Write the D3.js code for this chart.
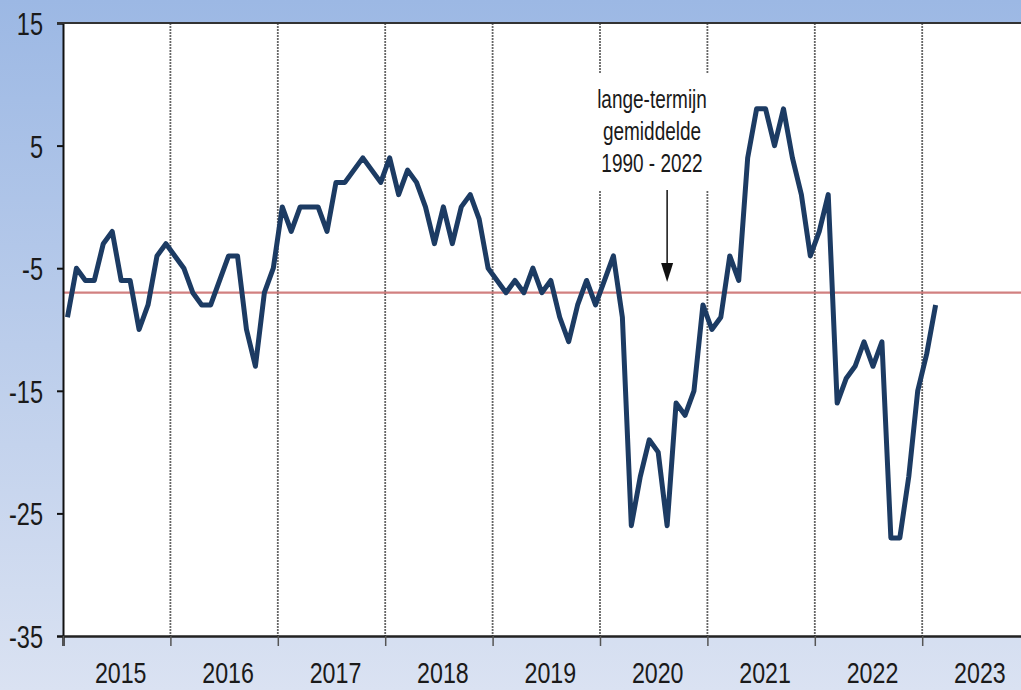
<!DOCTYPE html>
<html lang="nl">
	<head>
		<meta charset="utf-8">
		<title>Consumentenvertrouwen</title>
		<script src="https://d3js.org/d3.v7.min.js"></script>
		<style>
			html, body { margin: 0; padding: 0; overflow: hidden; }
			text { font-family: "Liberation Sans", Arial, sans-serif; fill: #1a1a1a; }
		</style>
	</head>
	<body>
		<script type="text/javascript">

			// years on the x axis
			var years = ["2015", "2016", "2017", "2018", "2019", "2020", "2021", "2022", "2023"];

			// monthly values, Jan 2015 - Feb 2023
			var values = [
				-9, -5, -6, -6, -3, -2, -6, -6, -10, -8, -4, -3,       // 2015
				-4, -5, -7, -8, -8, -6, -4, -4, -10, -13, -7, -5,      // 2016
				0, -2, 0, 0, 0, -2, 2, 2, 3, 4, 3, 2,                  // 2017
				4, 1, 3, 2, 0, -3, 0, -3, 0, 1, -1, -5,                // 2018
				-6, -7, -6, -7, -5, -7, -6, -9, -11, -8, -6, -8,       // 2019
				-6, -4, -9, -26, -22, -19, -20, -26, -16, -17, -15, -8, // 2020
				-10, -9, -4, -6, 4, 8, 8, 5, 8, 4, 1, -4,              // 2021
				-2, 1, -16, -14, -13, -11, -13, -11, -27, -27, -22, -15, // 2022
				-12, -8                                                // 2023
			];

			var yTicks = [15, 5, -5, -15, -25, -35];
			var longTermAverage = -7;
			var noteLines = ["lange-termijn", "gemiddelde", "1990 - 2022"];

			//Width and height of svg
			var w = 1021;
			var h = 690;
			var pLeft = 63, pTop = 23, pBottom = 636, pRight = 1021;

			// scales (x in months since Jan 2015)
			var xScale = d3.scaleLinear()
				.domain([0, years.length * 12])
				.range([pLeft, pLeft + years.length * 107.4]);

			var yScale = d3.scaleLinear()
				.domain([-35, 15])
				.range([pBottom, pTop]);

			var svg = d3.select("body").append("svg").attr("width", w).attr("height", h);

			// background gradient
			var grad = svg.append("defs").append("linearGradient")
				.attr("id", "bg").attr("x1", 0).attr("y1", 0).attr("x2", 0).attr("y2", 1);
			grad.append("stop").attr("offset", "0%").attr("stop-color", "#9cb8e4");
			grad.append("stop").attr("offset", "100%").attr("stop-color", "#dae2f2");

			svg.append("rect").attr("width", w).attr("height", h).attr("fill", "url(#bg)");
			svg.append("rect")
				.attr("x", pLeft).attr("y", pTop)
				.attr("width", pRight - pLeft).attr("height", pBottom - pTop)
				.attr("fill", "white");

			// year separators
			var yearStarts = d3.range(1, years.length);
			svg.selectAll(".sep")
				.data(yearStarts)
				.enter()
				.append("line")
				.attr("x1", function(d) { return xScale(d * 12); })
				.attr("x2", function(d) { return xScale(d * 12); })
				.attr("y1", pTop)
				.attr("y2", pBottom)
				.attr("stroke", "#666")
				.attr("stroke-width", 1.8)
				.attr("stroke-dasharray", "2,1");

			// box behind the note
			svg.append("rect")
				.attr("x", 594).attr("y", 74)
				.attr("width", 120).attr("height", 116)
				.attr("fill", "white");

			// long term average
			svg.append("line")
				.attr("x1", pLeft).attr("x2", pRight)
				.attr("y1", yScale(longTermAverage)).attr("y2", yScale(longTermAverage))
				.attr("stroke", "#c96a6a")
				.attr("stroke-opacity", 0.85)
				.attr("stroke-width", 2.2);

			// series
			var line = d3.line()
				.x(function(d, i) { return xScale(i + 0.5); })
				.y(function(d) { return yScale(d); });

			svg.append("path")
				.datum(values)
				.attr("d", line)
				.attr("fill", "none")
				.attr("stroke", "#1c3b63")
				.attr("stroke-width", 5)
				.attr("stroke-linejoin", "round");

			// y axis
			var yAxis = d3.axisLeft(yScale).tickValues(yTicks).tickSize(6).tickFormat(d3.format("d"));
			var gy = svg.append("g").attr("transform", "translate(" + pLeft + ",0)").call(yAxis);
			gy.select(".domain").attr("stroke", "#111").attr("stroke-width", 2);
			gy.selectAll(".tick line").attr("stroke", "#111").attr("stroke-width", 2);
			gy.selectAll(".tick text")
				.attr("x", 0).attr("dy", null).attr("y", 0)
				.attr("font-size", 31)
				.attr("font-family", "'Liberation Sans', Arial, sans-serif")
				.attr("text-anchor", "end")
				.attr("transform", "translate(-20,11.5) scale(0.76,1)")
				.attr("fill", "#1a1a1a")
				.text(function(d) { return String(d).replace("\u2212", "-"); });

			// top border
			svg.append("line")
				.attr("x1", pLeft - 6).attr("x2", pRight)
				.attr("y1", pTop).attr("y2", pTop)
				.attr("stroke", "#333").attr("stroke-width", 2);

			// x axis
			var xAxis = d3.axisBottom(xScale)
				.tickValues(d3.range(0, years.length * 12 + 1, 12))
				.tickSize(10)
				.tickFormat("");
			var gx = svg.append("g").attr("transform", "translate(0," + pBottom + ")").call(xAxis);
			gx.select(".domain").attr("stroke", "#222").attr("stroke-width", 2.5);
			gx.selectAll(".tick line").attr("stroke", "#555").attr("stroke-width", 1.5);

			svg.selectAll(".year")
				.data(years)
				.enter()
				.append("text")
				.attr("class", "year")
				.attr("font-size", 29)
				.attr("text-anchor", "middle")
				.attr("transform", function(d, i) {
					return "translate(" + (xScale(i * 12 + 6) + 4) + ",683) scale(0.8,1)";
				})
				.text(function(d) { return d; });

			// note with arrow
			svg.selectAll(".note")
				.data(noteLines)
				.enter()
				.append("text")
				.attr("class", "note")
				.attr("font-size", 25)
				.attr("text-anchor", "middle")
				.attr("transform", function(d, i) {
					return "translate(652," + (108 + i * 32) + ") scale(0.76,1)";
				})
				.text(function(d) { return d; });

			var ax = xScale(67.5);
			svg.append("line")
				.attr("x1", ax).attr("x2", ax)
				.attr("y1", 190).attr("y2", 266)
				.attr("stroke", "#111").attr("stroke-width", 1.5);
			svg.append("path")
				.attr("d", "M" + (ax - 6) + ",263L" + (ax + 6) + ",263L" + ax + ",282Z")
				.attr("fill", "#111");

		</script>
	</body>
</html>
